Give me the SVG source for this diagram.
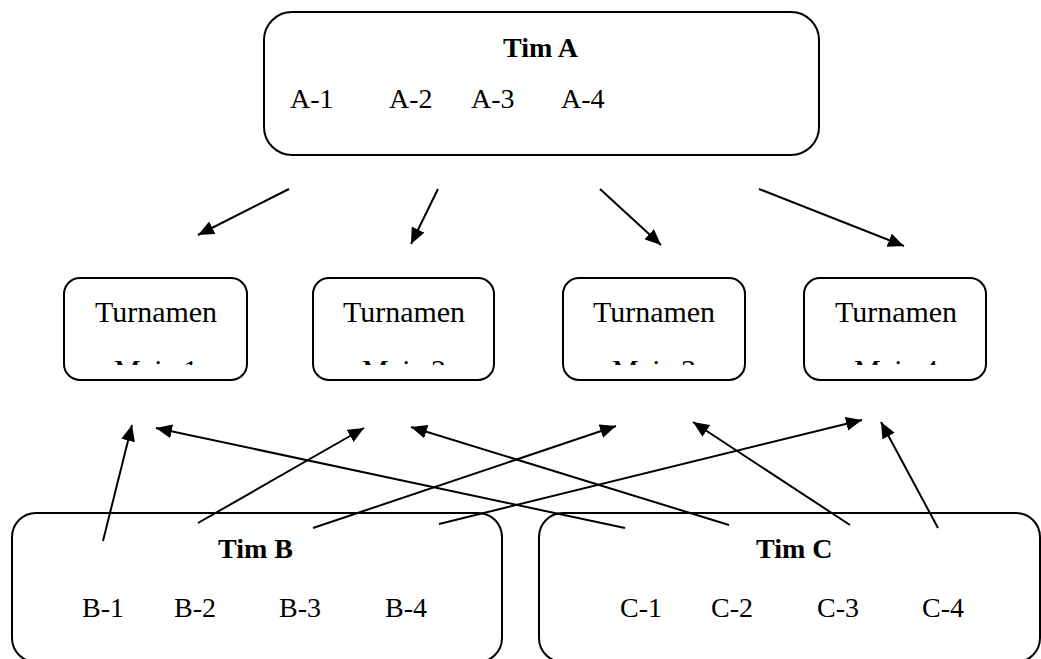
<svg xmlns="http://www.w3.org/2000/svg" width="1041" height="659" viewBox="0 0 1041 659">
<style>
.box{fill:#fff;stroke:#000;stroke-width:2}
.t{font-family:"Liberation Serif","Times New Roman",serif;font-size:28px;fill:#000}
.b{font-weight:bold}
.tn{font-size:30px;text-anchor:middle}
.c{stroke:#000;stroke-width:2;fill:none;marker-end:url(#ah)}
</style>
<defs>
<marker id="ah" markerUnits="userSpaceOnUse" markerWidth="16" markerHeight="14" viewBox="0 0 16 14" refX="16" refY="7" orient="auto">
<path d="M0,0 L16,7 L0,14 Z" fill="#000"/>
</marker>
<clipPath id="cl" clipPathUnits="userSpaceOnUse"><rect x="0" y="0" width="1041" height="365"/></clipPath>
</defs>
<rect width="1041" height="659" fill="#fff"/>
<g id="timA">
<rect class="box" x="264" y="12" width="555" height="143" rx="28"/>
<text class="t b" x="503" y="57">Tim A</text>
<text class="t" x="290" y="108">A-1</text>
<text class="t" x="389" y="108">A-2</text>
<text class="t" x="471" y="108">A-3</text>
<text class="t" x="561" y="108">A-4</text>
</g>
<g id="meja1">
<rect class="box" x="64" y="278" width="183" height="102" rx="16"/>
<text class="t tn" x="156" y="322">Turnamen</text>
<text class="t tn" x="156" y="380" clip-path="url(#cl)">Meja 1</text>
</g>
<g id="meja2">
<rect class="box" x="313" y="278" width="181" height="102" rx="16"/>
<text class="t tn" x="404" y="322">Turnamen</text>
<text class="t tn" x="404" y="380" clip-path="url(#cl)">Meja 2</text>
</g>
<g id="meja3">
<rect class="box" x="563" y="278" width="182" height="102" rx="16"/>
<text class="t tn" x="654" y="322">Turnamen</text>
<text class="t tn" x="654" y="380" clip-path="url(#cl)">Meja 3</text>
</g>
<g id="meja4">
<rect class="box" x="804" y="278" width="182" height="102" rx="16"/>
<text class="t tn" x="896" y="322">Turnamen</text>
<text class="t tn" x="896" y="380" clip-path="url(#cl)">Meja 4</text>
</g>
<g id="timB">
<rect class="box" x="12" y="513" width="490" height="149" rx="24"/>
<text class="t b" x="218" y="558">Tim B</text>
<text class="t" x="82" y="617">B-1</text>
<text class="t" x="174" y="617">B-2</text>
<text class="t" x="279" y="617">B-3</text>
<text class="t" x="385" y="617">B-4</text>
</g>
<g id="timC">
<rect class="box" x="539" y="513" width="501" height="149" rx="24"/>
<text class="t b" x="756" y="558">Tim C</text>
<text class="t" x="620" y="617">C-1</text>
<text class="t" x="711" y="617">C-2</text>
<text class="t" x="817" y="617">C-3</text>
<text class="t" x="922" y="617">C-4</text>
</g>
<g id="connectors">
<line class="c" x1="289" y1="189" x2="198" y2="235"/>
<line class="c" x1="438" y1="189" x2="411" y2="244"/>
<line class="c" x1="600" y1="189" x2="661" y2="245"/>
<line class="c" x1="759" y1="189" x2="904" y2="246"/>
<line class="c" x1="103" y1="541" x2="132" y2="425"/>
<line class="c" x1="625" y1="528" x2="156" y2="428"/>
<line class="c" x1="198" y1="523" x2="364" y2="428"/>
<line class="c" x1="729" y1="525" x2="411" y2="427"/>
<line class="c" x1="313" y1="528" x2="616" y2="426"/>
<line class="c" x1="850" y1="525" x2="693" y2="422"/>
<line class="c" x1="439" y1="524" x2="862" y2="420"/>
<line class="c" x1="938" y1="528" x2="881" y2="422"/>
</g>
</svg>
